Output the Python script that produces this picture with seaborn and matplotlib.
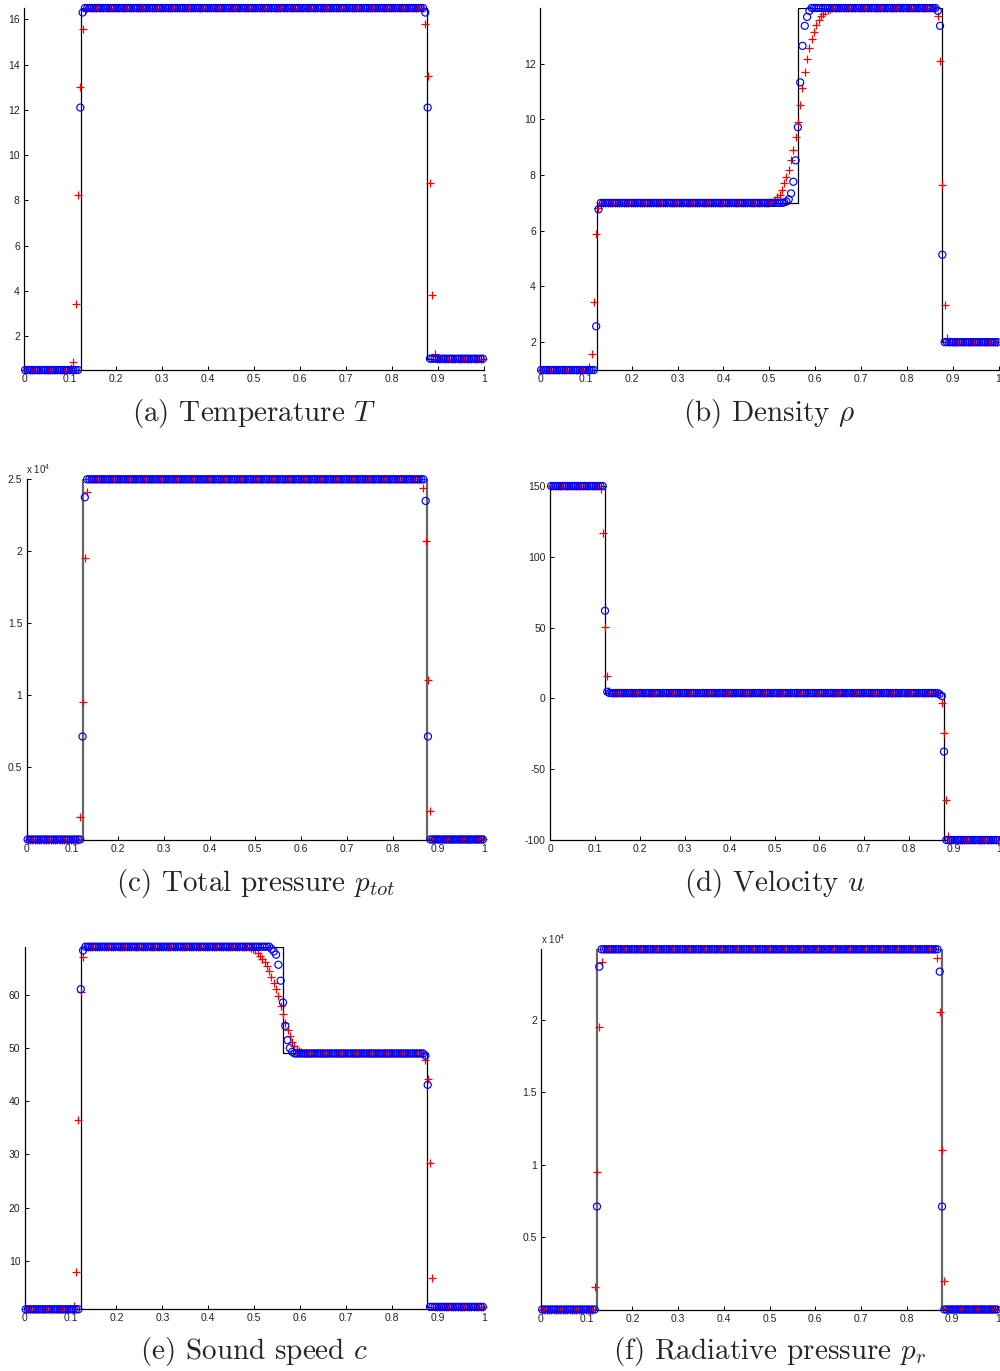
import numpy as np
import pandas as pd
import matplotlib
matplotlib.use("Agg")
import matplotlib.pyplot as plt
from matplotlib.ticker import FixedLocator, FuncFormatter
import seaborn as sns

# ---------------------------------------------------------------- grid / waves
N_CELLS = 200
X_SHOCK_L = 0.1235
X_CONTACT = 0.5635
X_SHOCK_R = 0.8765

# exact plateaus: left state, left of contact, right of contact, right state
temp_levels = [0.5, 16.5, 16.5, 1.0]
rho_levels = [1.0, 7.0, 14.0, 2.0]
ptot_levels = [0.5, 25000.0, 25000.0, 2.33]
vel_levels = [150.0, 3.8, 3.8, -100.0]
snd_levels = [0.84, 69.1, 49.0, 1.3]
prad_levels = [0.02, 24870.0, 24870.0, 0.33]

# numerical cell values that leave the plateaus: (first cell, values)
temp_circ = [(24, [12.1, 16.3]), (174, [16.3, 12.1])]
temp_plus = [(20, [0.6, 0.87, 3.43, 8.23, 13.0, 15.56, 16.4]),
             (174, [15.8, 13.5, 8.78, 3.8, 1.2])]

rho_circ = [(24, [2.57, 6.77]),
            (106, [7.02, 7.05, 7.13, 7.34, 7.76, 8.53, 9.72, 11.33, 12.64,
                   13.36, 13.68, 13.9]),
            (173, [13.9, 13.36, 5.14])]
rho_plus = [(21, [1.1, 1.56, 3.45, 5.9, 6.8]),
            (100, [7.03, 7.05, 7.1, 7.2, 7.3, 7.48, 7.72, 7.94, 8.2, 8.53,
                   8.89, 9.37, 9.9, 10.5, 11.13, 11.69, 12.17, 12.58, 12.88,
                   13.15, 13.39, 13.56, 13.72, 13.8, 13.88, 13.93, 13.97]),
            (173, [13.7, 12.1, 7.64, 3.35, 2.16])]

ptot_circ = [(24, [7150.0, 23750.0]), (174, [23500.0, 7150.0])]
ptot_plus = [(23, [1530.0, 9530.0, 19560.0, 24100.0]),
             (173, [24400.0, 20700.0, 11100.0, 2000.0])]

vel_circ = [(24, [61.9, 4.7]), (173, [3.0, 1.7, -37.6])]
vel_plus = [(22, [147.7, 117.0, 50.2, 16.0, 5.5]),
            (174, [-3.5, -24.7, -71.8, -97.0])]

snd_circ = [(24, [61.1, 68.4]),
            (107, [68.7, 68.2, 67.6, 65.7, 62.7, 58.6, 54.2, 51.5, 50.0,
                   49.3]),
            (174, [48.6, 43.1])]
snd_plus = [(21, [1.5, 7.8, 36.5, 60.5, 67.1]),
            (98, [68.9, 68.7, 68.4, 67.9, 67.4, 66.8, 66.2, 65.4, 64.5,
                  63.4, 62.3, 61.2, 59.9, 58.0, 56.4, 54.8, 53.4, 52.2,
                  51.2, 50.5, 49.9, 49.5, 49.3, 49.15]),
            (174, [47.8, 44.2, 28.4, 6.8])]

prad_circ = [(24, [7110.0, 23670.0]), (174, [23330.0, 7110.0])]
prad_plus = [(23, [1550.0, 9480.0, 19490.0, 24000.0]),
             (173, [24250.0, 20570.0, 11020.0, 2000.0])]

captions = [r"(a) Temperature $T$", r"(b) Density $\rho$",
            r"(c) Total pressure $p_{tot}$", r"(d) Velocity $u$",
            r"(e) Sound speed $c$", r"(f) Radiative pressure $p_r$"]
x_ticks = [0, 0.1, 0.2, 0.3, 0.4, 0.5, 0.6, 0.7, 0.8, 0.9, 1.0]
y_ticks = [[2, 4, 6, 8, 10, 12, 14, 16],
           [2, 4, 6, 8, 10, 12],
           [5000, 10000, 15000, 20000, 25000],
           [-100, -50, 0, 50, 100, 150],
           [10, 20, 30, 40, 50, 60],
           [5000, 10000, 15000, 20000, 25000]]
scaled = [False, False, True, False, False, True]

# ---------------------------------------------------------------- helpers
x_cells = (np.arange(N_CELLS) + 0.5) / N_CELLS


def exact_on_cells(levels):
    return np.select([x_cells < X_SHOCK_L, x_cells < X_CONTACT,
                      x_cells < X_SHOCK_R], levels[:3], levels[3])


def exact_curve(levels):
    L, A, B, R = levels
    xs = [0, X_SHOCK_L, X_SHOCK_L, X_CONTACT, X_CONTACT, X_SHOCK_R,
          X_SHOCK_R, 1]
    ys = [L, L, A, A, B, B, R, R]
    return pd.DataFrame({"x": xs, "y": ys})


def numerical(levels, pieces):
    v = exact_on_cells(levels).astype(float)
    for start, vals in pieces:
        v[start:start + len(vals)] = vals
    return pd.DataFrame({"x": x_cells, "y": v})


panels = [
    (temp_levels, temp_circ, temp_plus),
    (rho_levels, rho_circ, rho_plus),
    (ptot_levels, ptot_circ, ptot_plus),
    (vel_levels, vel_circ, vel_plus),
    (snd_levels, snd_circ, snd_plus),
    (prad_levels, prad_circ, prad_plus),
]

H = 1371.0
# axes boxes in pixels: left, right, top, bottom
boxes = [(24, 484, 8, 370), (540, 998.5, 8, 370),
         (26.5, 484, 479.3, 839.5), (550, 999, 486, 840),
         (24.5, 484, 946.7, 1309.3), (541, 998, 949.3, 1309.5)]
caption_y = [414, 414, 883, 883, 1352, 1352]

sns.set_theme(style="white")
plt.rcParams["font.family"] = ["Liberation Sans", "DejaVu Sans"]
plt.rcParams["mathtext.fontset"] = "cm"

fig = plt.figure(figsize=(10, 13.71), dpi=100)

for i, (levels, circ, plus) in enumerate(panels):
    l, r, t, b = boxes[i]
    ax = fig.add_axes([l / 1000, 1 - b / H, (r - l) / 1000, (b - t) / H])
    ex = exact_curve(levels)
    d_circ = numerical(levels, circ)
    d_plus = numerical(levels, plus)

    line_col = "0.4" if scaled[i] else "black"
    line_w = 1.6 if scaled[i] else 0.9
    sns.lineplot(data=ex, x="x", y="y", ax=ax, sort=False, estimator=None,
                 color=line_col, linewidth=line_w, zorder=2)
    sns.scatterplot(data=d_plus, x="x", y="y", ax=ax, marker="+",
                    color="red", s=32, linewidth=0.9, zorder=3, clip_on=False)
    sns.scatterplot(data=d_circ, x="x", y="y", ax=ax, marker="o",
                    facecolors="none", edgecolors="blue", s=26,
                    linewidths=0.85, zorder=4, clip_on=False)

    all_y = np.concatenate([ex["y"], d_circ["y"], d_plus["y"]])
    ax.set_xlim(0, 1)
    ax.set_ylim(all_y.min(), all_y.max())
    ax.set_xlabel("")
    ax.set_ylabel("")
    for s in ("top", "right"):
        ax.spines[s].set_visible(False)
    for s in ("left", "bottom"):
        ax.spines[s].set_color("black")
        ax.spines[s].set_linewidth(0.9)

    ax.xaxis.set_major_locator(FixedLocator(x_ticks))
    ax.xaxis.set_major_formatter(FuncFormatter(lambda v, p: f"{v:g}"))
    ax.yaxis.set_major_locator(FixedLocator(y_ticks[i]))
    if scaled[i]:
        ax.yaxis.set_major_formatter(
            FuncFormatter(lambda v, p: f"{v / 1e4:g}"))
        ax.text(0.0, 1.008, r"x 10$^{\mathregular{4}}$",
                transform=ax.transAxes, fontsize=7, ha="left", va="bottom")
    else:
        ax.yaxis.set_major_formatter(FuncFormatter(lambda v, p: f"{v:g}"))
    ax.tick_params(direction="in", length=3, width=0.7, labelsize=7.5,
                   pad=3, color="black", labelcolor="#222222",
                   bottom=True, left=True)

    fig.text((l + r) / 2 / 1000, 1 - caption_y[i] / H, captions[i],
             ha="center", va="center", fontsize=21, family="cmr10")

fig.savefig("out.png", dpi=100)
